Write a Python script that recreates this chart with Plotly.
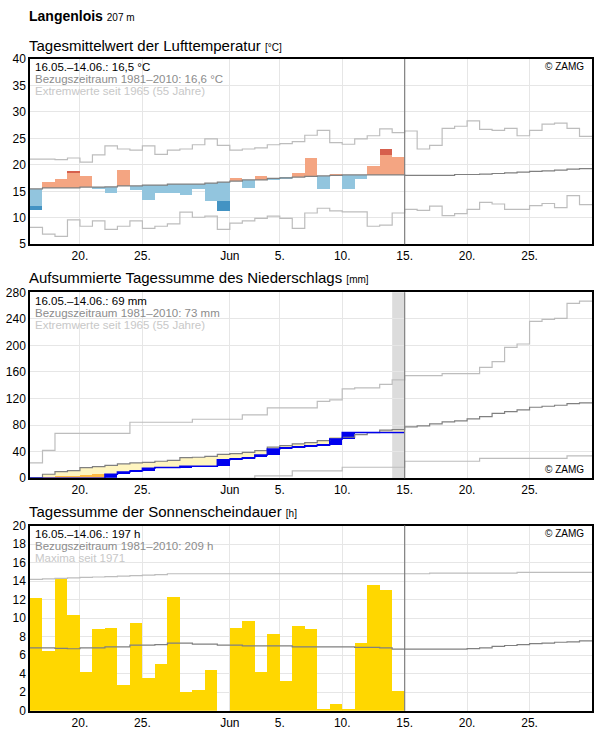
import pandas as pd
import plotly.graph_objects as go

# days shown: 16.05. - 29.06.
days = pd.date_range("2020-05-16", "2020-06-29", freq="D")
obs_days = days[:30]  # 16.05. - 14.06.

# ---- temperature (°C) ----
temp_obs = [11.5, 16.8, 17.4, 18.9, 17.9, 15.5, 14.6, 19.1, 15.3, 13.4,
            14.6, 14.6, 14.3, 15.5, 13.2, 11.3, 17.55, 15.7, 17.9, 17.2,
            17.3, 18.5, 21.3, 15.5, 18.3, 15.5, 17.4, 19.8, 23.0, 21.5]
# part of the bar drawn in the darker shade (starts at this value)
temp_dark = [12.25, None, None, 18.5, None, None, None, None, None, None,
             None, None, None, None, None, 13.2, None, None, None, None,
             None, None, None, None, None, None, None, None, 21.9, None]
temp_norm = [15.47, 15.66, 15.66, 15.66, 15.79, 15.79, 15.85, 16.04, 16.04, 16.17,
             16.17, 16.36, 16.36, 16.36, 16.54, 16.73, 16.92, 17.17, 17.17, 17.43,
             17.55, 17.68, 17.81, 17.93, 18.0, 18.12, 18.12, 18.12, 18.12, 18.12,
             18.0, 18.0, 18.0, 18.0, 18.18, 18.18, 18.25, 18.37, 18.5, 18.63,
             18.75, 18.88, 19.0, 19.18, 19.3]
temp_max = [21.1, 21.1, 21.0, 21.3, 20.5, 21.9, 23.6, 23.0, 22.8, 23.6,
            22.0, 22.8, 23.0, 23.8, 24.9, 23.7, 22.8, 23.0, 23.2, 23.8,
            24.0, 24.4, 25.6, 26.5, 24.2, 23.9, 24.9, 25.5, 26.8, 26.1,
            26.4, 23.0, 23.7, 26.9, 27.3, 28.3, 26.7, 26.5, 26.9, 25.5,
            26.5, 27.7, 27.9, 26.9, 25.4]
temp_min = [8.2, 6.9, 6.5, 9.6, 8.4, 9.4, 7.8, 8.4, 9.4, 8.0,
            8.4, 8.85, 11.05, 10.1, 10.3, 7.8, 9.0, 9.4, 9.9, 10.3,
            9.9, 8.0, 10.9, 11.8, 11.3, 11.1, 11.1, 8.4, 8.6, 10.9,
            11.6, 11.4, 12.2, 10.4, 10.8, 11.6, 12.9, 12.6, 11.6, 11.6,
            12.3, 12.7, 11.9, 14.2, 12.5]

# ---- precipitation, accumulated (mm) ----
prec_obs = [0, 0, 0, 0, 0, 0, 6, 9.5, 11, 15,
            16, 16, 18, 18, 18, 28, 29, 31, 35, 44,
            46, 47, 49, 50, 59, 69, 69, 69, 69, 69]
prec_low = [0, 1, 1.5, 3.5, 5, 6.5]  # orange area, 16.05.-21.05.
prec_norm = [1, 6, 10, 11.5, 16, 17.5, 19.5, 21.5, 23, 24,
             25.6, 27, 31, 31.6, 33, 36, 37, 39, 41.6, 46.7,
             49, 51.7, 53.7, 56.7, 60.2, 61.7, 65.7, 68.7, 72.3, 73.3,
             77.3, 78.8, 81.8, 84.8, 86.3, 89.3, 92.8, 97.8, 100.3, 102.9,
             106.9, 108.4, 109.9, 112.4, 113.4]
prec_max = [23, 42, 67.7, 67.7, 67.7, 67.7, 67.7, 67.7, 84.3, 84.3,
            84.3, 84.3, 84.3, 88.8, 88.8, 88.8, 88.8, 95.3, 95.3, 105.9,
            105.9, 105.9, 105.9, 115.9, 117.9, 134.5, 136, 136, 141.5, 148,
            154.5, 154.5, 154.5, 157.5, 157.5, 157.5, 167, 175.6, 197.2, 202.2,
            236.3, 239.3, 240.8, 263.4, 266.9]
prec_min = [0, 0, 0, 0, 0, 0, 0, 0, 0, 0,
            0, 0, 0, 0, 0, 0, 0, 0, 3.5, 3.5,
            3.5, 11, 11, 11, 11, 16.5, 16.5, 16.5, 16.5, 16.5,
            25.6, 25.6, 25.6, 25.6, 25.6, 25.6, 30, 30, 30, 30,
            30, 30, 30, 33.6, 33.6]

# ---- sunshine (h) ----
sun_obs = [12.2, 6.5, 14.3, 10.4, 4.2, 8.85, 8.95, 2.8, 9.5, 3.6,
           5.1, 12.3, 2.05, 2.25, 4.5, 0, 8.95, 9.7, 4.2, 8.3,
           3.25, 9.2, 8.85, 0.2, 0.75, 0.2, 7.35, 13.6, 13.05, 2.15]
sun_norm = [6.8, 6.8, 6.75, 6.7, 6.8, 6.8, 6.9, 6.9, 7.1, 7.1,
            7.15, 7.3, 7.3, 7.2, 7.2, 7.1, 7.1, 7.0, 7.0, 7.0,
            7.0, 6.9, 6.9, 6.9, 6.9, 6.9, 6.85, 6.85, 6.8, 6.65,
            6.65, 6.65, 6.65, 6.65, 6.65, 6.72, 6.8, 6.95, 7.05, 7.15,
            7.25, 7.3, 7.4, 7.45, 7.55]
sun_max = [14.2, 14.25, 14.3, 14.35, 14.4, 14.45, 14.5, 14.55, 14.6, 14.65,
           14.7, 14.8, 14.8, 14.8, 14.8, 14.8, 14.8, 14.8, 14.8, 14.8,
           14.8, 14.8, 14.8, 14.8, 14.8, 14.8, 14.8, 14.8, 14.8, 14.8,
           14.8, 14.8, 14.87, 14.87, 14.87, 14.87, 14.87, 14.87, 14.87, 14.95,
           14.95, 14.95, 14.95, 14.95, 14.95]

tick_dates = ["2020-05-20", "2020-05-25", "2020-06-01", "2020-06-05", "2020-06-10",
              "2020-06-15", "2020-06-20", "2020-06-25"]
tick_text = ["20.", "25.", "Jun", "5.", "10.", "15.", "20.", "25."]

DAY = 86400000
centers = obs_days + pd.Timedelta(hours=12)
step_x = list(days) + [days[-1] + pd.Timedelta(days=1)]

fig = go.Figure()

def step(vals, color, ax, width=1.2):
    fig.add_trace(go.Scatter(x=step_x, y=list(vals) + [vals[-1]], mode="lines",
                             line=dict(color=color, width=width, shape="hv"),
                             xaxis="x" + ax, yaxis="y" + ax, hoverinfo="skip"))

def bars(base, top, color, ax):
    fig.add_trace(go.Bar(x=centers[:len(top)], y=[t - b for t, b in zip(top, base)], base=base,
                         width=DAY, marker=dict(color=color, line=dict(width=0)),
                         xaxis="x" + ax, yaxis="y" + ax))

# temperature
n_obs = temp_norm[:30]
up_c = ["#f4a582" if t >= n else "#92c5de" for t, n in zip(temp_obs, n_obs)]
bars(n_obs, temp_obs, up_c, "")
dk_base = [d if d is not None else t for d, t in zip(temp_dark, temp_obs)]
dk_c = ["#d6604d" if t >= n else "#4393c3" for t, n in zip(temp_obs, n_obs)]
bars(dk_base, temp_obs, dk_c, "")
step(temp_max, "#bdbdbd", "")
step(temp_min, "#bdbdbd", "")
step(temp_norm, "#808080", "")

# precipitation
pn = prec_norm[:30]
yel_top = [max(n, o) for n, o in zip(pn, prec_obs)]
bars(prec_obs, yel_top, "#fff5c0", "2")
bars([0] * len(prec_low), prec_low, "#ffbb44", "2")
prev = [0] + prec_obs[:-1]
bars(prev, prec_obs, "#0000ee", "2")
step(prec_max, "#bdbdbd", "2")
step(prec_min, "#bdbdbd", "2")
step(prec_norm, "#808080", "2")
fig.add_trace(go.Scatter(x=list(obs_days) + [obs_days[-1] + pd.Timedelta(days=1)],
                         y=prec_obs + [prec_obs[-1]], mode="lines",
                         line=dict(color="#0000ee", width=1.5, shape="hv"),
                         xaxis="x2", yaxis="y2"))

# sunshine
bars([0] * 30, sun_obs, "#ffd700", "3")
step(sun_max, "#bdbdbd", "3")
step(sun_norm, "#808080", "3")

xa = dict(type="date", range=[days[0], days[-1] + pd.Timedelta(days=1)],
          tickvals=tick_dates, ticktext=tick_text, ticks="", showgrid=True,
          gridcolor="#e6e6e6", showline=True, linecolor="black", mirror=True,
          linewidth=1.5, tickfont=dict(size=12, color="black"), domain=[0, 1],
          automargin=False)
ya = dict(showgrid=True, gridcolor="#e6e6e6", showline=True, linecolor="black",
          mirror=True, linewidth=1.5, ticks="", zeroline=False, automargin=False,
          tickfont=dict(size=12, color="black"))

fig.update_layout(
    width=596, height=729, margin=dict(l=30, r=4, t=0, b=0),
    plot_bgcolor="white", paper_bgcolor="white", showlegend=False,
    barmode="overlay", bargap=0, font=dict(family="Liberation Sans, Arial", color="black"),
    xaxis=dict(xa, anchor="y"), xaxis2=dict(xa, anchor="y2"), xaxis3=dict(xa, anchor="y3"),
    yaxis=dict(ya, range=[5, 40], dtick=5, domain=[0.665, 0.919], anchor="x"),
    yaxis2=dict(ya, range=[0, 280], dtick=40, domain=[0.344, 0.599], anchor="x2"),
    yaxis3=dict(ya, range=[0, 20], dtick=2, domain=[0.025, 0.279], anchor="x3"),
)

# vertical line at 15.06. and shaded last day in precipitation
for ax in ["", "2", "3"]:
    fig.add_shape(type="line", x0="2020-06-15", x1="2020-06-15", y0=0, y1=1,
                  xref="x" + ax, yref="y" + ax + " domain", line=dict(color="#808080", width=1.2))
fig.add_shape(type="rect", x0="2020-06-14", x1="2020-06-15", y0=0, y1=1, xref="x2",
              yref="y2 domain", fillcolor="#dcdcdc", line=dict(width=0), layer="below")

def txt(x, y, s, size=12, color="black", anchor="left", xref="paper", yref="paper"):
    fig.add_annotation(x=x, y=y, xref=xref, yref=yref, text=s, showarrow=False,
                       xanchor=anchor, yanchor="middle", font=dict(size=size, color=color))

txt(-0.005, 1 - 16 / 729, "<b>Langenlois</b> <span style='font-size:10px'>207 m</span>", size=14)
txt(-0.005, 1 - 45 / 729, "Tagesmittelwert der Lufttemperatur <span style='font-size:10px'>[°C]</span>", size=15)
txt(-0.005, 1 - 277 / 729, "Aufsummierte Tagessumme des Niederschlags <span style='font-size:10px'>[mm]</span>", size=15)
txt(-0.005, 1 - 512 / 729, "Tagessumme der Sonnenscheindauer <span style='font-size:10px'>[h]</span>", size=15)

panels = [("", "16.05.–14.06.: 16,5 °C", "Bezugszeitraum 1981–2010: 16,6 °C", "Extremwerte seit 1965 (55 Jahre)", 1),
          ("2", "16.05.–14.06.: 69 mm", "Bezugszeitraum 1981–2010: 73 mm", "Extremwerte seit 1965 (55 Jahre)", 0),
          ("3", "16.05.–14.06.: 197 h", "Bezugszeitraum 1981–2010: 209 h", "Maxima seit 1971", 1)]
for ax, a, b, c, zamg_top in panels:
    xr, yr = "x" + ax + " domain", "y" + ax + " domain"
    txt(0.005, 0.955, a, size=11.5, xref=xr, yref=yr)
    txt(0.005, 0.89, b, size=11.5, color="#8c8c8c", xref=xr, yref=yr)
    txt(0.005, 0.825, c, size=11.5, color="#c8c8c8", xref=xr, yref=yr)
    txt(0.99, 0.96 if zamg_top else 0.045, "© ZAMG", size=10, anchor="right", xref=xr, yref=yr)

# drop the default page margin so the figure sits at the window's corner
fig.write_html("out.html", config={"displayModeBar": False},
               post_script="document.body.style.margin='0';")
